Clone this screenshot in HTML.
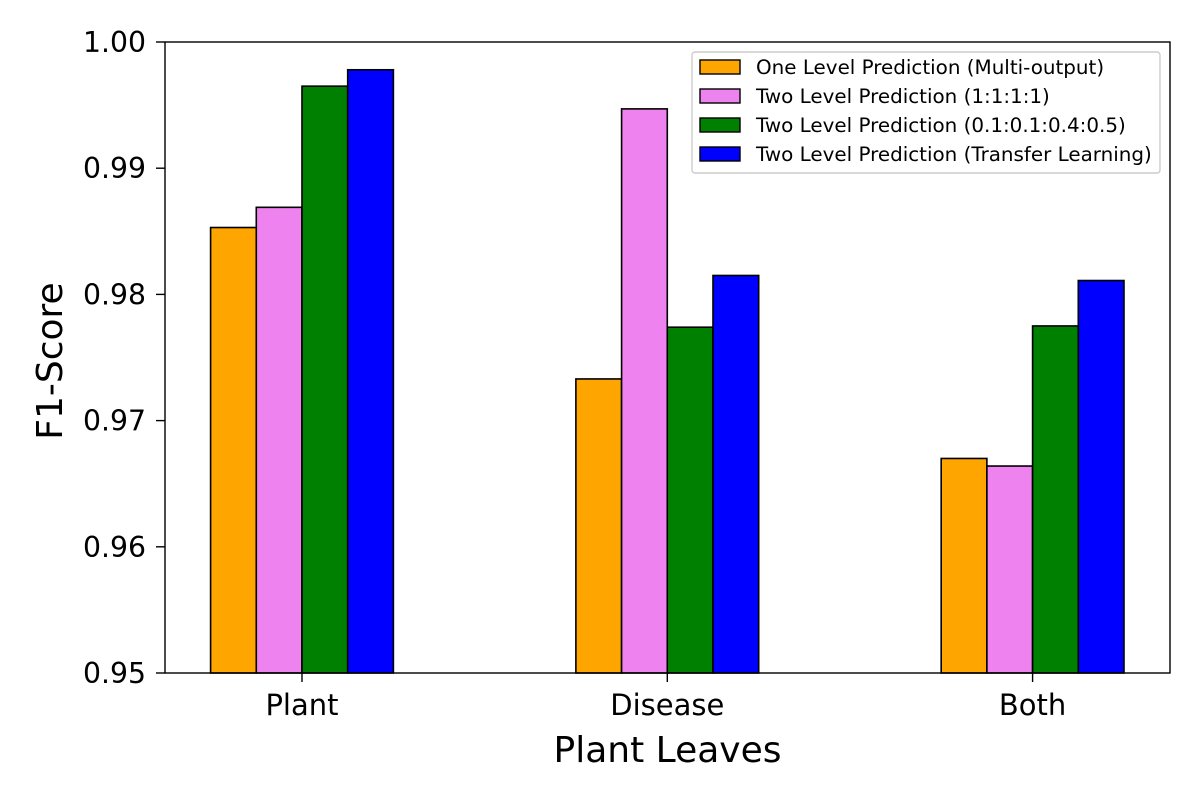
<!DOCTYPE html>
<html><head><meta charset="utf-8"><style>
body{margin:0;background:#fff}
svg text{font-family:"DejaVu Sans","Liberation Sans",sans-serif;fill:#000}
</style></head><body>
<svg id="chart" width="1200" height="800" xmlns="http://www.w3.org/2000/svg">
<rect width="1200" height="800" fill="#fff"/>
<g id="bars"></g>
<g id="axes"></g>
<g id="legend"></g>
</svg>
<script>
const categories = ["Plant","Disease","Both"];
const seriesNames = ["One Level Prediction (Multi-output)","Two Level Prediction (1:1:1:1)","Two Level Prediction (0.1:0.1:0.4:0.5)","Two Level Prediction (Transfer Learning)"];
const seriesColors = ["orange","violet","green","blue"];
const oneLevel = [0.9853,0.9733,0.9670];
const twoLevelEqual = [0.9869,0.9947,0.9664];
const twoLevelWeighted = [0.9965,0.9774,0.9775];
const twoLevelTransfer = [0.9978,0.9815,0.9811];
const yTicks = [0.95,0.96,0.97,0.98,0.99,1.00];
const yTickLabels = ["0.95","0.96","0.97","0.98","0.99","1.00"];
const series = [oneLevel,twoLevelEqual,twoLevelWeighted,twoLevelTransfer];

const NS="http://www.w3.org/2000/svg";
const L=165,R=1170,T=42,B=673;
const yMin=0.95,yMax=1.0;
const y=v=>B-(v-yMin)/(yMax-yMin)*(B-T);
const x0=-0.375, step=365.3;
const x=i=>L+(i-x0)*step;
const bw=45.7;
function mk(tag,attrs,parent,text){const e=document.createElementNS(NS,tag);for(const k in attrs)e.setAttribute(k,attrs[k]);if(text!==undefined)e.textContent=text;parent.appendChild(e);return e;}
const bars=document.getElementById('bars'),axes=document.getElementById('axes'),legend=document.getElementById('legend');
series.forEach((s,si)=>{s.forEach((v,ci)=>{
  const bx=x(ci)+(si-2)*bw;
  const r=mk('rect',{x:bx,y:y(v),width:bw,height:B-y(v),fill:seriesColors[si],stroke:'#000','stroke-width':1.6},bars);
  
  
});});
const frame=mk('rect',{x:L,y:T,width:R-L,height:B-T,fill:'none',stroke:'#000','stroke-width':1.4},axes);


yTicks.forEach((t,i)=>{
  mk('line',{x1:L-9,x2:L,y1:y(t),y2:y(t),stroke:'#000','stroke-width':1.4},axes);
  const tx=mk('text',{x:L-19,y:y(t)+10,'text-anchor':'end','font-size':28.3},axes,yTickLabels[i]);
  
  
});
categories.forEach((c,i)=>{
  mk('line',{x1:x(i),x2:x(i),y1:B,y2:B+9,stroke:'#000','stroke-width':1.4},axes);
  const tx=mk('text',{x:x(i),y:B+42,'text-anchor':'middle','font-size':29},axes,c);
  
  
});
const xt=mk('text',{x:(L+R)/2,y:762,'text-anchor':'middle','font-size':36},axes,'Plant Leaves');


const yt=mk('text',{x:0,y:0,'text-anchor':'middle','font-size':36,transform:'translate(62,361) rotate(-90)'},axes,'F1-Score');


const lb=mk('rect',{x:692,y:52,width:468,height:121,rx:3,fill:'#fff',stroke:'#ccc','stroke-width':1.4},legend);


seriesNames.forEach((n,i)=>{
  const cy=67+i*29;
  const g=mk('g',{},legend);
  
  
  mk('rect',{x:700,y:cy-7,width:40,height:14,fill:seriesColors[i],stroke:'#000','stroke-width':1.4},g);
  mk('text',{x:756,y:cy+7,'font-size':19.9},g,n);
});
</script>
</body></html>
